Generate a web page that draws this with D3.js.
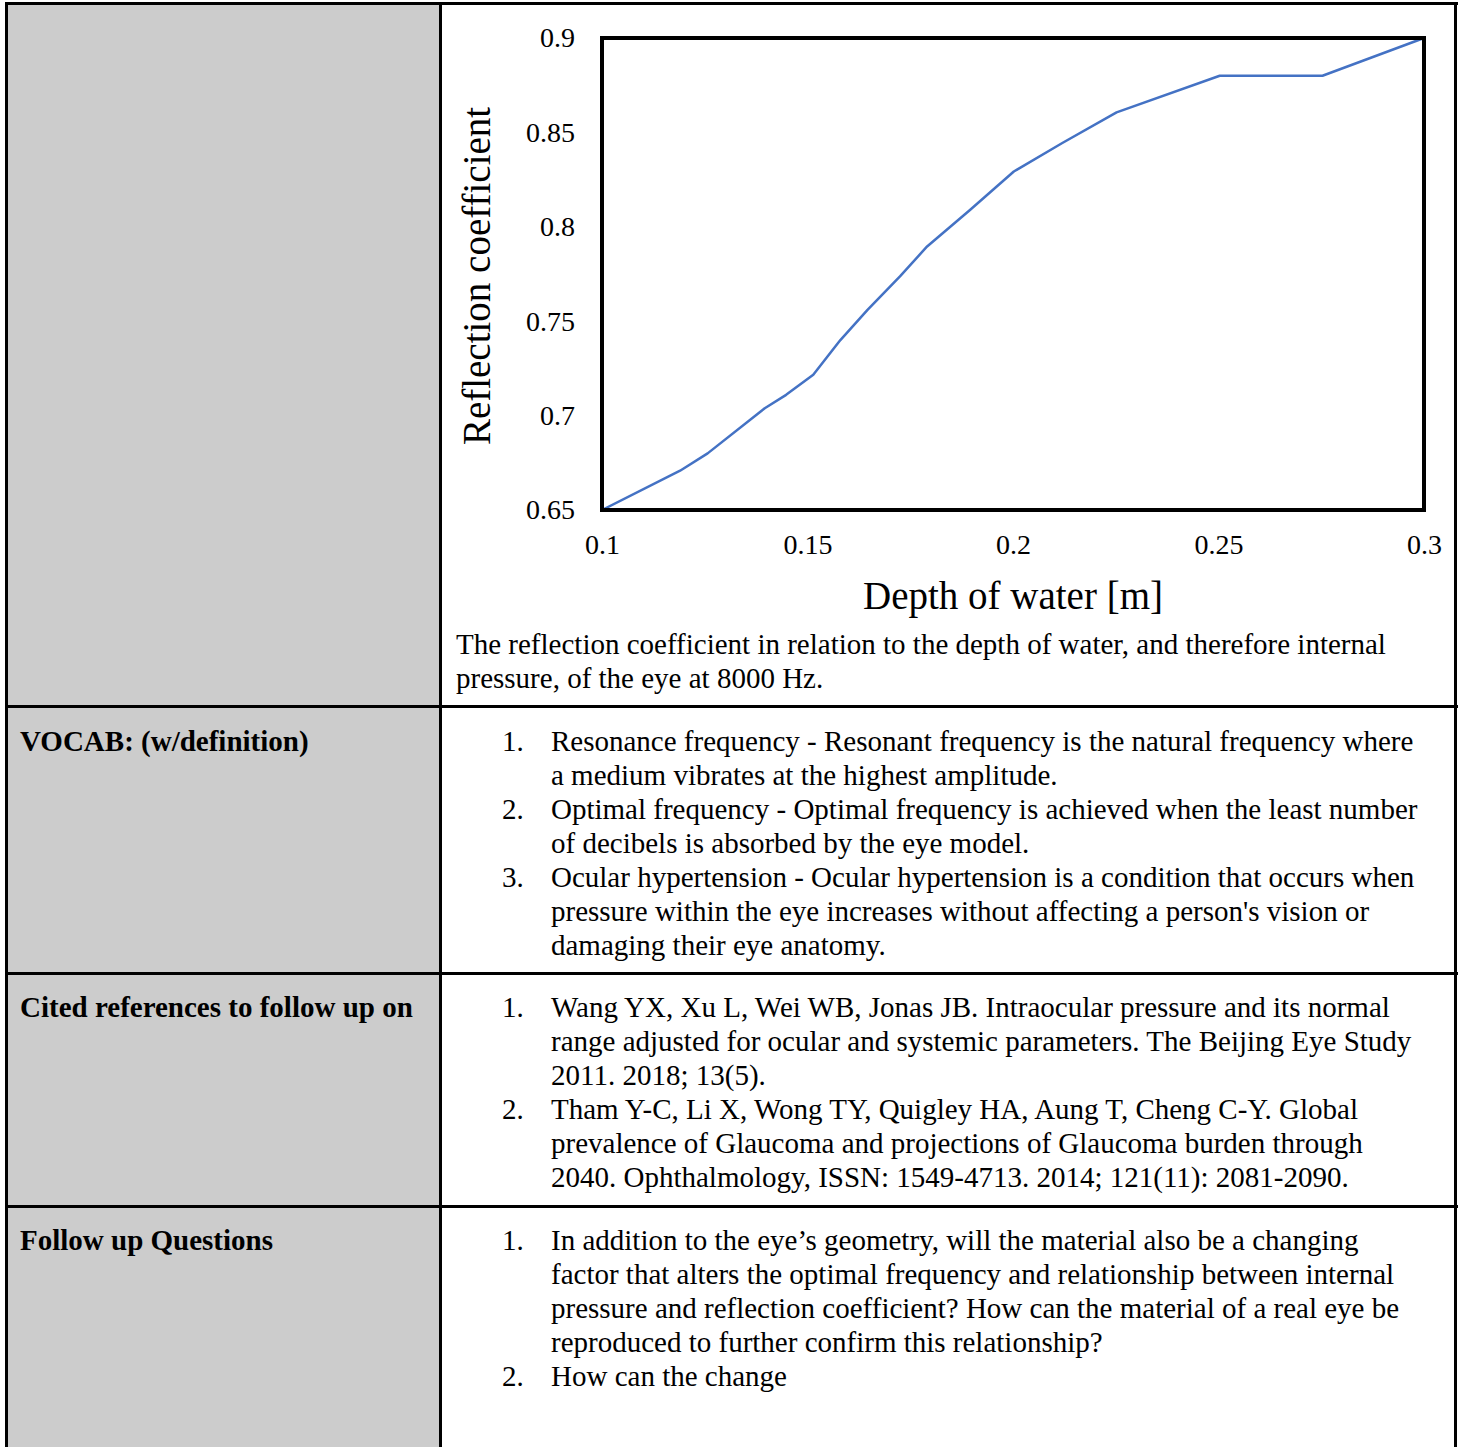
<!DOCTYPE html>
<html lang="en">
<head>
  <meta charset="UTF-8">
  <title>Reflection coefficient</title>
  <style>
    body { margin: 0; background: #fff; font-family: "Liberation Serif", "Times New Roman", serif; color: #000; }
    #page { position: relative; width: 1458px; height: 1447px; overflow: hidden; }
    .cell { position: absolute; box-sizing: border-box; }
    .gray { background: #cccccc; }
    .hline { position: absolute; background: #000; height: 3px; }
    .vline { position: absolute; background: #000; width: 3px; }
    .label { position: absolute; left: 20px; font-weight: bold; font-size: 29px; line-height: 34px; white-space: nowrap; }
    .txt { position: absolute; font-size: 29px; line-height: 34px; white-space: nowrap; }
    .num { position: absolute; left: 502px; font-size: 29px; line-height: 34px; }
    .item { position: absolute; left: 551px; font-size: 29px; line-height: 34px; white-space: nowrap; }
    svg { position: absolute; left: 0; top: 0; }
  </style>
</head>
<body>
<div id="page">
  <div class="cell gray" style="left:6px;top:3px;width:435px;height:1444px;"></div>

  <div class="hline" style="left:5px;top:2px;width:1453px;"></div>
  <div class="hline" style="left:5px;top:705px;width:1453px;"></div>
  <div class="hline" style="left:5px;top:972px;width:1453px;"></div>
  <div class="hline" style="left:5px;top:1205px;width:1453px;"></div>
  <div class="vline" style="left:5px;top:2px;height:1445px;"></div>
  <div class="vline" style="left:439px;top:2px;height:1445px;"></div>
  <div class="vline" style="left:1454px;top:2px;height:1445px;"></div>

  <div class="txt" style="left:456px;top:627px;">The reflection coefficient in relation to the depth of water, and therefore internal<br>pressure, of the eye at 8000 Hz.</div>

  <div class="label" style="top:724px;">VOCAB: (w/definition)</div>
  <div class="num" style="top:724px;">1.<br><br>2.<br><br>3.</div>
  <div class="item" style="top:724px;">Resonance frequency - Resonant frequency is the natural frequency where<br>a medium vibrates at the highest amplitude.<br>Optimal frequency - Optimal frequency is achieved when the least number<br>of decibels is absorbed by the eye model.<br>Ocular hypertension - Ocular hypertension is a condition that occurs when<br>pressure within the eye increases without affecting a person's vision or<br>damaging their eye anatomy.</div>

  <div class="label" style="top:990px;">Cited references to follow up on</div>
  <div class="num" style="top:990px;">1.<br><br><br>2.</div>
  <div class="item" style="top:990px;">Wang YX, Xu L, Wei WB, Jonas JB. Intraocular pressure and its normal<br>range adjusted for ocular and systemic parameters. The Beijing Eye Study<br>2011. 2018; 13(5).<br>Tham Y-C, Li X, Wong TY, Quigley HA, Aung T, Cheng C-Y. Global<br>prevalence of Glaucoma and projections of Glaucoma burden through<br>2040. Ophthalmology, ISSN: 1549-4713. 2014; 121(11): 2081-2090.</div>

  <div class="label" style="top:1223px;">Follow up Questions</div>
  <div class="num" style="top:1223px;">1.<br><br><br><br>2.</div>
  <div class="item" style="top:1223px;">In addition to the eye’s geometry, will the material also be a changing<br>factor that alters the optimal frequency and relationship between internal<br>pressure and reflection coefficient? How can the material of a real eye be<br>reproduced to further confirm this relationship?<br>How can the change</div>

  <svg id="svg" width="1458" height="625"></svg>
</div>

<script src="https://d3js.org/d3.v7.min.js"></script>
<script>
  const depth = [0.1, 0.119, 0.1257, 0.1396, 0.1448, 0.1514, 0.158, 0.1646, 0.1725, 0.1791, 0.1896, 0.2002, 0.212, 0.2252, 0.2503, 0.2753, 0.3]
  const reflection = [0.65, 0.6708, 0.68, 0.7039, 0.711, 0.7216, 0.74, 0.756, 0.7737, 0.7896, 0.809, 0.8293, 0.8444, 0.8606, 0.88, 0.88, 0.9]
  const xTicks = [0.1, 0.15, 0.2, 0.25, 0.3]
  const yTicks = [0.65, 0.7, 0.75, 0.8, 0.85, 0.9]

  function renderChart() {
    const margin = { top: 38, right: 34, bottom: 115, left: 602 }
    const width = 1458 - (margin.left + margin.right)
    const height = 625 - (margin.top + margin.bottom)

    // x scale
    const xscale = d3.scaleLinear()
      .domain([0.1, 0.3])
      .range([margin.left, margin.left + width])

    // y scale
    const yscale = d3.scaleLinear()
      .domain([0.65, 0.9])
      .range([margin.top + height, margin.top])

    const svg = d3.select('#svg')

    const leftAxis = d3.axisLeft(yscale)
      .tickValues(yTicks)
      .tickSize(0)
      .tickPadding(27)
      .tickFormat(d => String(d))

    const yAxis = svg.append('g')
      .attr('transform', `translate(${margin.left}, 0)`)
      .call(leftAxis)
    yAxis.select('.domain').remove()

    const bottomAxis = d3.axisBottom(xscale)
      .tickValues(xTicks)
      .tickSize(0)
      .tickPadding(24)
      .tickFormat(d => String(d))

    const xAxis = svg.append('g')
      .attr('transform', `translate(0, ${margin.top + height})`)
      .call(bottomAxis)
    xAxis.select('.domain').remove()

    svg.selectAll('.tick text')
      .attr('font-family', '"Liberation Serif", serif')
      .attr('font-size', 28)
      .attr('fill', '#000')

    // the data line
    const line = d3.line()
      .x((d, i) => xscale(depth[i]))
      .y(d => yscale(d))

    svg.append('path')
      .datum(reflection)
      .attr('fill', 'none')
      .attr('stroke', '#4472c4')
      .attr('stroke-width', 2.5)
      .attr('stroke-linejoin', 'round')
      .attr('d', line)

    // plot frame
    svg.append('rect')
      .attr('x', xscale(0.1))
      .attr('y', yscale(0.9))
      .attr('width', xscale(0.3) - xscale(0.1))
      .attr('height', yscale(0.65) - yscale(0.9))
      .attr('fill', 'none')
      .attr('stroke', '#000')
      .attr('stroke-width', 4)

    svg.append('text')
      .attr('x', (xscale(0.1) + xscale(0.3)) / 2)
      .attr('y', 609)
      .attr('text-anchor', 'middle')
      .attr('font-family', '"Liberation Serif", serif')
      .attr('font-size', 39)
      .text('Depth of water [m]')

    svg.append('text')
      .attr('transform', `translate(490, ${(yscale(0.65) + yscale(0.9)) / 2 + 2}) rotate(-90)`)
      .attr('text-anchor', 'middle')
      .attr('font-family', '"Liberation Serif", serif')
      .attr('font-size', 39)
      .text('Reflection coefficient')
  }

  renderChart()
</script>
</body>
</html>
